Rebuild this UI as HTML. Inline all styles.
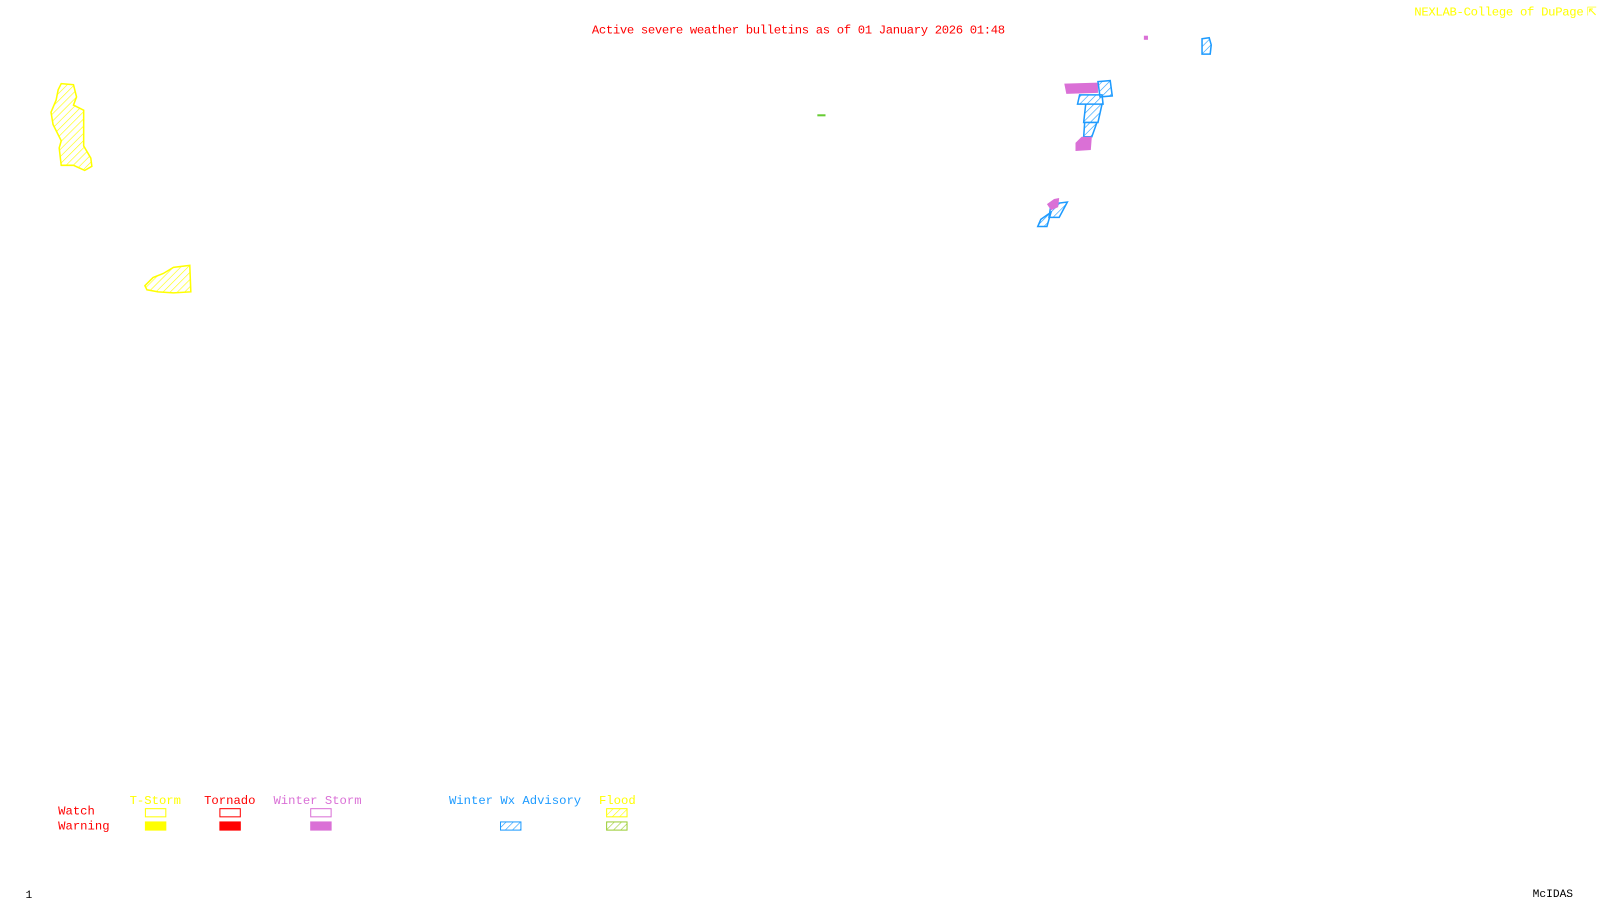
<!DOCTYPE html>
<html><head><style>html,body{margin:0;padding:0;background:#fff;width:1600px;height:900px;overflow:hidden}</style></head>
<body>
<svg width="1600" height="900" viewBox="0 0 1568 882" preserveAspectRatio="none" xmlns="http://www.w3.org/2000/svg" font-family="Liberation Mono, monospace" font-size="12">
<defs>
<pattern id="hy" width="5" height="5" patternUnits="userSpaceOnUse" patternTransform="rotate(45)"><line x1="0" y1="0" x2="0" y2="5" stroke="#ff0" stroke-width="1.2"/></pattern>
<pattern id="hb" width="5" height="5" patternUnits="userSpaceOnUse" patternTransform="rotate(45)"><line x1="0" y1="0" x2="0" y2="5" stroke="#1e9bff" stroke-width="1.2"/></pattern>
<pattern id="hg" width="5" height="5" patternUnits="userSpaceOnUse" patternTransform="rotate(45)"><line x1="0" y1="0" x2="0" y2="5" stroke="#9acd32" stroke-width="1.2"/></pattern>
</defs>
<text x="580" y="33" fill="#f00" textLength="405">Active severe weather bulletins as of 01 January 2026 01:48</text>
<text x="1386" y="15" fill="#ff0" textLength="166">NEXLAB-College of DuPage</text>
<text x="1555" y="15" fill="#ff0">⇱</text>
<!-- yellow areas -->
<path d="M60,82 L72,83 L75,95 L72,103 L82,108 L82,125 L82,143 L89,155 L90,163 L83,167 L72,162 L60,162 L58,145 L60,138 L52,122 L50,110 L55,98 L57,88 Z" fill="url(#hy)" stroke="#ff0" stroke-width="1.5"/>
<path d="M142,280 L150,272 L160,268 L170,262 L186,260 L187,286 L170,287 L155,286 L144,284 Z" fill="url(#hy)" stroke="#ff0" stroke-width="1.5"/>
<!-- green -->
<line x1="801" y1="113" x2="809" y2="113" stroke="#6c3" stroke-width="2"/>
<!-- blue/magenta -->
<rect x="1121" y="35" width="4" height="4" fill="#da70d6"/>
<path d="M1178,38 L1185,37 L1187,44 L1186,53 L1178,53 Z" fill="url(#hb)" stroke="#1e9bff" stroke-width="1.5"/>
<path d="M1043,82 L1076,81 L1076,91 L1045,92 Z" fill="#da70d6"/>
<path d="M1076,80 L1088,79 L1090,94 L1078,95 Z M1058,93 L1080,93 L1081,102 L1056,102 Z M1064,102 L1080,102 L1076,120 L1062,120 Z M1063,120 L1075,120 L1070,134 L1062,134 Z" fill="url(#hb)" stroke="#1e9bff" stroke-width="1.5"/>
<path d="M1060,134 L1070,134 L1069,147 L1054,148 L1054,140 Z" fill="#da70d6"/>
<path d="M1030,200 L1046,198 L1038,213 L1028,213 Z M1020,215 L1030,208 L1026,222 L1017,222 Z" fill="url(#hb)" stroke="#1e9bff" stroke-width="1.5"/>
<path d="M1033,195 L1038,194 L1037,203 L1030,206 L1026,200 Z" fill="#da70d6"/>
<!-- legend -->
<text x="127" y="788" fill="#ff0">T-Storm</text>
<text x="200" y="788" fill="#f00">Tornado</text>
<text x="268" y="788" fill="#da70d6">Winter Storm</text>
<text x="440" y="788" fill="#1e9bff">Winter Wx Advisory</text>
<text x="587" y="788" fill="#ff0">Flood</text>
<text x="57" y="798" fill="#f00">Watch</text>
<text x="57" y="813" fill="#f00">Warning</text>
<rect x="142.5" y="792.5" width="20" height="8" fill="none" stroke="#ff0"/>
<rect x="142" y="805" width="21" height="9" fill="#ff0"/>
<rect x="215.5" y="792.5" width="20" height="8" fill="none" stroke="#f00"/>
<rect x="215" y="805" width="21" height="9" fill="#f00"/>
<rect x="304.5" y="792.5" width="20" height="8" fill="none" stroke="#da70d6"/>
<rect x="304" y="805" width="21" height="9" fill="#da70d6"/>
<rect x="490.5" y="805.5" width="20" height="8" fill="url(#hb)" stroke="#1e9bff"/>
<rect x="594.5" y="792.5" width="20" height="8" fill="url(#hy)" stroke="#ff0"/>
<rect x="594.5" y="805.5" width="20" height="8" fill="url(#hg)" stroke="#9acd32"/>
<text x="25" y="880" fill="#000" font-size="11">1</text>
<text x="1502" y="879" fill="#000" font-size="11">McIDAS</text>
</svg>
</body></html>
